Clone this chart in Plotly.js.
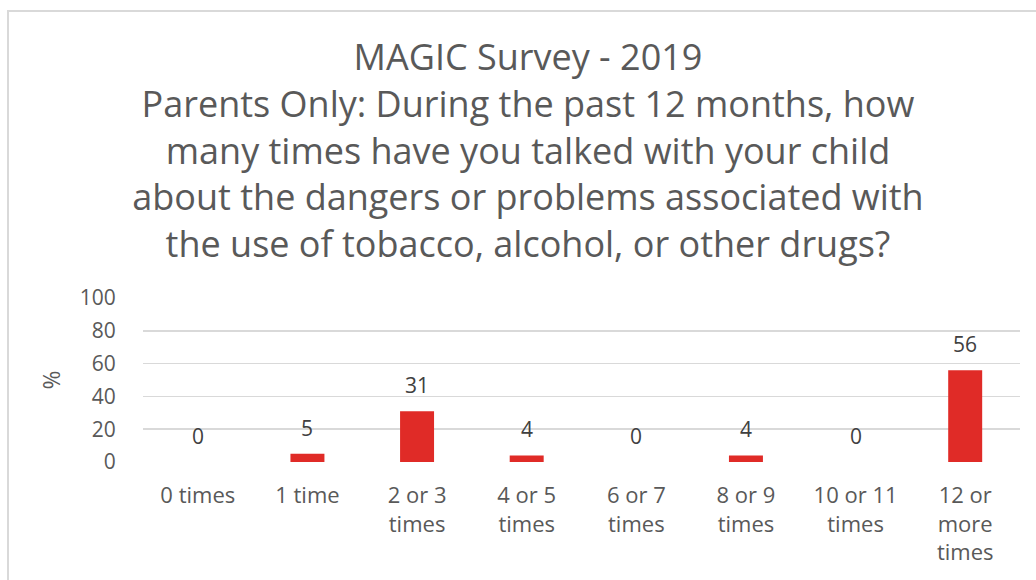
<!DOCTYPE html>
<html>
<head>
<meta charset="utf-8">
<script src="https://cdn.plot.ly/plotly-3.0.1.min.js"></script>
<style>
  html, body { margin: 0; padding: 0; background: #fff; }
  #frame { position: absolute; left: 7px; top: 10px; width: 1040px; height: 600px; border: 2px solid #d9d9d9; box-sizing: border-box; }
  #chart { position: absolute; left: 0; top: 0; width: 1036px; height: 580px; }
</style>
</head>
<body>
<div id="frame"></div>
<div id="chart"></div>
<script>
const categories = ["0 times", "1 time", "2 or 3<br>times", "4 or 5<br>times", "6 or 7<br>times", "8 or 9<br>times", "10 or 11<br>times", "12 or<br>more<br>times"];
const values = [0, 5, 31, 4, 0, 4, 0, 56];
const yTicks = [0, 20, 40, 60, 80, 100];
const titleText = "MAGIC Survey - 2019<br>Parents Only: During the past 12 months, how<br>many times have you talked with your child<br>about the dangers or problems associated with<br>the use of tobacco, alcohol, or other drugs?";

const textColor = "#595959";
const fontFam = "Open Sans, sans-serif";

const trace = {
  type: "bar",
  x: categories,
  y: values,
  marker: { color: "#e02b27" },
  hoverinfo: "x+y"
};

const annotations = categories.map((c, i) => ({
  x: c, y: values[i], xref: "x", yref: "y",
  text: String(values[i]),
  showarrow: false,
  yanchor: "bottom",
  yshift: 10,
  font: { family: fontFam, size: 21, color: "#404040" }
}));

const layout = {
  width: 1036, height: 580,
  paper_bgcolor: "rgba(0,0,0,0)",
  plot_bgcolor: "rgba(0,0,0,0)",
  margin: { l: 143, r: 16, t: 298, b: 118 },
  bargap: 0.69,
  showlegend: false,
  title: {
    text: titleText,
    font: { family: fontFam, size: 36, color: textColor },
    x: 528 / 1036, xanchor: "center", xref: "container",
    y: 1 - 70 / 580, yanchor: "top", yref: "container"
  },
  xaxis: {
    type: "category",
    tickfont: { family: fontFam, size: 22, color: textColor },
    showgrid: false, zeroline: false, showline: false,
    ticks: "", ticklen: 0, ticklabelstandoff: 18
  },
  yaxis: {
    range: [0, 100],
    tickvals: yTicks,
    ticktext: yTicks.map(String),
    tickfont: { family: fontFam, size: 21, color: textColor },
    gridcolor: "#d9d9d9", gridwidth: 1.5,
    zeroline: false, showline: false,
    ticks: "outside", ticklen: 22, tickcolor: "rgba(0,0,0,0)",
    title: { text: "%", font: { family: fontFam, size: 23, color: textColor }, standoff: 12 }
  },
  annotations: annotations
};

Plotly.newPlot("chart", [trace], layout, { displayModeBar: false, staticPlot: true });
</script>
</body>
</html>
